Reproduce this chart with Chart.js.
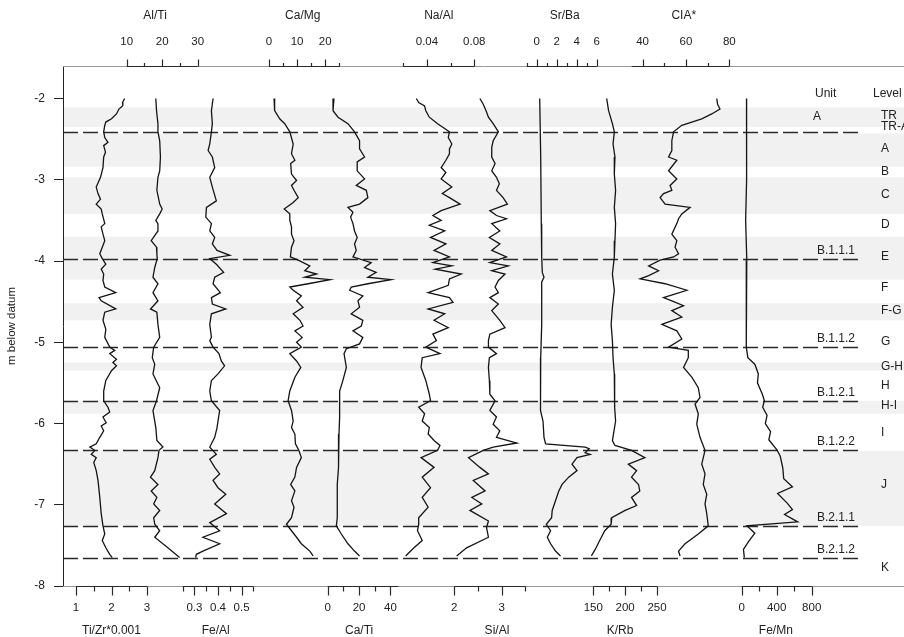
<!DOCTYPE html>
<html>
<head>
<meta charset="utf-8">
<script src="https://cdn.jsdelivr.net/npm/chart.js@4.4.1/dist/chart.umd.min.js"></script>
<style>
  html, body { margin: 0; padding: 0; background: #ffffff; }
  #wrap { width: 904px; height: 637px; }
</style>
</head>
<body>
<div id="wrap"><canvas id="c" width="904" height="637"></canvas></div>
<script>
// ---------------- DATA (depth in m) ----------------
const tiZrDepth = [-2.00,-2.05,-2.09,-2.13,-2.19,-2.25,-2.29,-2.33,-2.41,-2.48,-2.54,-2.58,-2.66,-2.72,-2.85,-2.97,-3.09,-3.17,-3.24,-3.30,-3.36,-3.42,-3.54,-3.58,-3.67,-3.75,-3.83,-3.91,-3.97,-4.04,-4.10,-4.16,-4.24,-4.32,-4.39,-4.45,-4.49,-4.59,-4.63,-4.73,-4.84,-4.94,-5.06,-5.10,-5.14,-5.21,-5.25,-5.29,-5.35,-5.47,-5.60,-5.72,-5.80,-5.86,-5.92,-5.99,-6.03,-6.09,-6.17,-6.25,-6.29,-6.33,-6.38,-6.42,-6.48,-6.58,-6.70,-6.91,-7.11,-7.26,-7.36,-7.44,-7.53,-7.61,-7.65];
const tiZrValues = [2.37,2.31,2.32,2.21,2.14,2.00,1.84,1.81,1.78,1.81,1.90,1.78,1.83,1.78,1.76,1.69,1.57,1.62,1.69,1.57,1.71,1.74,1.81,1.71,1.76,1.81,1.74,1.67,1.74,1.84,1.71,1.78,1.76,1.81,2.12,1.65,1.71,2.12,1.81,1.76,1.84,1.81,1.95,2.09,1.95,2.14,2.04,2.14,2.00,1.84,1.78,1.78,1.90,1.95,1.76,1.85,1.71,1.78,1.67,1.57,1.39,1.53,1.43,1.57,1.50,1.57,1.62,1.67,1.71,1.76,1.81,1.74,1.84,1.95,2.02];

const alTiDepth = [-2.00,-2.15,-2.31,-2.41,-2.52,-2.72,-2.89,-2.97,-3.13,-3.30,-3.36,-3.42,-3.50,-3.54,-3.63,-3.75,-3.83,-3.91,-3.97,-4.08,-4.20,-4.28,-4.39,-4.49,-4.59,-4.63,-4.78,-4.94,-5.06,-5.19,-5.27,-5.39,-5.56,-5.72,-5.84,-6.05,-6.21,-6.29,-6.33,-6.42,-6.58,-6.66,-6.75,-6.83,-6.91,-6.99,-7.07,-7.16,-7.24,-7.32,-7.40,-7.53,-7.65];
const alTiValues = [18.2,18.4,18.8,18.8,19.3,19.5,19.3,18.8,18.5,19.3,20.0,19.3,18.2,18.8,18.8,16.9,18.4,18.5,18.6,17.9,17.4,18.8,17.4,18.8,16.7,18.5,18.8,19.3,17.6,17.2,17.9,17.4,19.3,18.4,17.4,18.2,18.5,20.2,19.1,18.8,17.9,16.7,18.8,16.9,18.5,17.6,19.3,17.6,17.9,19.3,17.9,21.6,24.9];

const feAlDepth = [-2.00,-2.15,-2.31,-2.41,-2.56,-2.64,-2.72,-2.85,-2.97,-3.09,-3.26,-3.34,-3.46,-3.54,-3.63,-3.71,-3.79,-3.87,-3.93,-3.97,-4.04,-4.14,-4.20,-4.28,-4.39,-4.45,-4.53,-4.59,-4.65,-4.78,-4.94,-4.98,-5.06,-5.14,-5.23,-5.29,-5.39,-5.47,-5.60,-5.72,-5.84,-5.97,-6.05,-6.17,-6.29,-6.38,-6.44,-6.54,-6.62,-6.70,-6.79,-6.87,-6.99,-7.11,-7.22,-7.32,-7.40,-7.48,-7.57,-7.61,-7.65];
const feAlValues = [0.379,0.372,0.376,0.372,0.365,0.358,0.376,0.386,0.365,0.376,0.393,0.351,0.348,0.372,0.365,0.386,0.376,0.396,0.450,0.365,0.393,0.424,0.386,0.379,0.410,0.372,0.376,0.433,0.372,0.365,0.372,0.365,0.379,0.404,0.414,0.428,0.400,0.372,0.365,0.372,0.407,0.400,0.396,0.386,0.365,0.393,0.365,0.386,0.407,0.379,0.400,0.433,0.386,0.436,0.365,0.407,0.336,0.407,0.336,0.308,0.305];

const caMgDepth = [-2.00,-2.15,-2.25,-2.31,-2.41,-2.56,-2.68,-2.76,-2.80,-2.93,-3.01,-3.07,-3.13,-3.22,-3.28,-3.36,-3.42,-3.50,-3.58,-3.67,-3.75,-3.83,-3.95,-3.99,-4.06,-4.12,-4.16,-4.20,-4.23,-4.28,-4.32,-4.36,-4.43,-4.49,-4.57,-4.65,-4.73,-4.80,-4.86,-4.94,-5.00,-5.06,-5.14,-5.23,-5.31,-5.43,-5.60,-5.72,-5.84,-5.97,-6.05,-6.13,-6.25,-6.33,-6.42,-6.54,-6.66,-6.75,-6.83,-6.95,-7.03,-7.16,-7.24,-7.32,-7.40,-7.48,-7.57,-7.63];
const caMgValues = [1.8,2.0,3.8,5.6,7.4,8.6,8.0,9.2,7.7,8.0,9.8,8.0,8.9,10.4,8.6,5.4,7.4,7.4,8.0,8.0,8.9,8.0,7.6,10.4,14.5,12.7,16.9,12.7,21.7,13.9,7.4,8.6,11.5,9.8,12.1,8.6,11.0,12.1,9.2,11.8,9.8,11.5,7.4,9.8,11.3,9.2,7.4,6.8,8.0,8.6,8.0,9.2,9.4,10.6,11.5,9.8,9.2,7.7,9.2,8.0,8.9,8.0,6.2,8.0,9.8,11.5,14.5,15.7];

const caTiDepth = [-2.00,-2.15,-2.23,-2.31,-2.41,-2.52,-2.62,-2.72,-2.78,-2.89,-2.99,-3.07,-3.13,-3.22,-3.30,-3.34,-3.40,-3.46,-3.54,-3.63,-3.71,-3.79,-3.87,-3.95,-4.02,-4.08,-4.14,-4.20,-4.23,-4.28,-4.32,-4.36,-4.43,-4.49,-4.57,-4.65,-4.73,-4.80,-4.86,-4.94,-5.02,-5.08,-5.14,-5.31,-5.47,-5.60,-5.72,-5.92,-6.13,-6.33,-6.54,-6.75,-6.95,-7.16,-7.26,-7.36,-7.48,-7.57,-7.63];
const caTiValues = [4.0,3.4,6.6,12.9,17.1,20.3,20.3,23.5,18.8,18.8,23.5,18.2,24.6,25.6,20.3,12.9,16.1,14.6,16.1,17.1,18.8,17.1,18.2,16.1,27.7,23.5,30.9,25.6,40.4,25.6,15.0,14.0,22.4,19.3,20.3,15.0,22.4,21.4,16.1,22.4,20.3,11.9,10.4,11.9,9.7,7.6,7.6,7.6,7.2,7.2,6.6,6.1,6.1,6.1,5.5,8.7,12.9,17.1,20.3];

const naAlDepth = [-2.00,-2.05,-2.09,-2.15,-2.23,-2.31,-2.41,-2.48,-2.56,-2.62,-2.68,-2.76,-2.85,-2.91,-2.99,-3.09,-3.17,-3.22,-3.30,-3.38,-3.44,-3.50,-3.56,-3.63,-3.71,-3.79,-3.87,-3.95,-4.02,-4.06,-4.10,-4.16,-4.22,-4.30,-4.39,-4.45,-4.51,-4.59,-4.65,-4.73,-4.82,-4.90,-4.98,-5.06,-5.14,-5.19,-5.31,-5.47,-5.64,-5.72,-5.80,-5.88,-5.97,-6.05,-6.13,-6.21,-6.27,-6.33,-6.42,-6.54,-6.66,-6.79,-6.91,-7.03,-7.16,-7.24,-7.32,-7.44,-7.53,-7.63];
const naAlValues = [0.031,0.033,0.038,0.039,0.042,0.049,0.059,0.058,0.061,0.059,0.059,0.056,0.052,0.056,0.052,0.061,0.053,0.059,0.068,0.052,0.045,0.052,0.042,0.055,0.043,0.056,0.046,0.059,0.045,0.061,0.047,0.069,0.059,0.058,0.041,0.059,0.062,0.041,0.055,0.046,0.058,0.045,0.048,0.039,0.051,0.036,0.035,0.039,0.042,0.043,0.033,0.038,0.036,0.042,0.041,0.046,0.051,0.049,0.035,0.046,0.036,0.043,0.036,0.041,0.033,0.033,0.032,0.036,0.029,0.022];

const siAlDepth = [-2.00,-2.07,-2.15,-2.23,-2.31,-2.41,-2.52,-2.60,-2.72,-2.80,-2.89,-2.97,-3.05,-3.13,-3.22,-3.30,-3.38,-3.44,-3.48,-3.54,-3.63,-3.71,-3.79,-3.87,-3.95,-4.02,-4.06,-4.12,-4.16,-4.24,-4.32,-4.39,-4.45,-4.53,-4.61,-4.73,-4.82,-4.90,-4.98,-5.06,-5.14,-5.19,-5.31,-5.47,-5.64,-5.72,-5.84,-5.92,-6.01,-6.09,-6.17,-6.24,-6.29,-6.33,-6.42,-6.54,-6.62,-6.70,-6.83,-6.91,-6.99,-7.07,-7.20,-7.28,-7.40,-7.53,-7.63];
const siAlValues = [2.54,2.61,2.67,2.72,2.82,2.93,2.82,2.79,2.79,2.86,2.79,2.89,2.95,2.89,3.03,3.12,2.75,2.89,3.10,2.79,2.96,2.74,2.96,2.79,3.10,2.75,3.14,2.79,3.07,2.93,2.86,2.93,2.75,2.93,2.79,2.96,3.07,2.75,2.72,2.72,2.89,2.74,2.72,2.74,2.75,2.86,2.75,2.89,2.82,2.96,2.89,3.32,2.82,2.61,2.30,2.54,2.72,2.40,2.65,2.37,2.58,2.33,2.72,2.68,2.72,2.26,2.05];

const srBaDepth = [-2.00,-2.72,-3.54,-3.95,-4.14,-4.20,-4.26,-4.78,-5.19,-5.60,-5.84,-5.97,-6.17,-6.25,-6.29,-6.31,-6.36,-6.38,-6.42,-6.50,-6.58,-6.66,-6.75,-6.83,-6.95,-7.07,-7.16,-7.24,-7.32,-7.40,-7.48,-7.57,-7.63];
const srBaValues = [0.30,0.40,0.46,0.50,0.56,0.73,0.50,0.50,0.40,0.36,0.40,0.63,0.73,0.89,4.85,5.25,4.85,5.35,4.03,3.53,4.03,3.20,2.54,2.21,1.88,1.55,1.49,0.96,1.39,1.06,1.39,1.88,2.38];

const kRbDepth = [-2.00,-2.15,-2.31,-2.41,-2.56,-2.72,-2.93,-3.13,-3.34,-3.54,-3.75,-3.95,-4.16,-4.36,-4.57,-4.78,-4.98,-5.19,-5.39,-5.60,-5.80,-5.97,-6.21,-6.27,-6.33,-6.42,-6.50,-6.58,-6.66,-6.75,-6.83,-6.91,-7.01,-7.07,-7.16,-7.24,-7.32,-7.44,-7.55,-7.63];
const kRbValues = [171,174,180,183,181,184,183,185,183,185,184,183,180,183,180,178,180,181,183,184,183,185,180,184,210,231,205,218,210,221,223,210,218,200,179,178,168,160,153,147];

const ciaDepth = [-2.00,-2.07,-2.13,-2.19,-2.25,-2.29,-2.33,-2.41,-2.52,-2.64,-2.72,-2.76,-2.89,-2.99,-3.07,-3.13,-3.17,-3.22,-3.30,-3.34,-3.42,-3.48,-3.54,-3.67,-3.75,-3.83,-3.91,-3.95,-3.99,-4.06,-4.12,-4.18,-4.22,-4.28,-4.36,-4.45,-4.49,-4.55,-4.61,-4.69,-4.78,-4.86,-4.96,-5.06,-5.10,-5.19,-5.31,-5.43,-5.56,-5.68,-5.76,-5.88,-6.01,-6.17,-6.33,-6.50,-6.62,-6.75,-6.87,-6.99,-7.11,-7.26,-7.36,-7.48,-7.57,-7.63];
const ciaValues = [74.2,74.6,75.7,71.9,67.3,62.7,58.1,54.3,53.5,53.5,52.0,55.8,52.0,55.8,52.7,53.5,49.7,48.1,50.4,61.9,58.1,56.6,55.8,53.5,55.8,55.0,56.6,54.3,48.1,42.8,47.4,42.8,38.9,50.4,60.4,49.7,53.5,58.9,53.5,58.1,48.9,55.8,58.1,52.0,61.1,61.1,58.9,62.7,65.7,66.5,64.2,65.7,65.0,66.5,68.8,67.3,68.8,68.0,69.6,68.8,69.6,70.3,65.7,59.6,56.6,57.3];

const feMnDepth = [-2.00,-2.41,-3.00,-3.50,-3.98,-4.50,-5.06,-5.19,-5.27,-5.39,-5.50,-5.64,-5.72,-5.80,-5.90,-6.00,-6.10,-6.20,-6.32,-6.40,-6.55,-6.68,-6.78,-6.86,-6.98,-7.06,-7.12,-7.21,-7.26,-7.35,-7.45,-7.55,-7.65];
const feMnValues = [55,60,52,45,58,50,55,70,150,190,180,236,259,240,290,270,330,310,400,440,470,480,580,410,520,580,490,640,60,150,80,20,30];

// axis extents and tick labels
const tiZrRange = [1, 3];       const tiZrTicks = [1, 2, 3];          const tiZrMinor = [1.5, 2.5];
const alTiRange = [10, 30];     const alTiTicks = [10, 20, 30];       const alTiMinor = [15, 25];
const feAlRange = [0.25, 0.55]; const feAlTicks = [0.3, 0.4, 0.5];    const feAlMinor = [0.25, 0.35, 0.45, 0.55];
const caMgRange = [0, 25];      const caMgTicks = [0, 10, 20];        const caMgMinor = [5, 15, 25];
const caTiRange = [0, 45];      const caTiTicks = [0, 20, 40];        const caTiMinor = [10, 30];
const naAlRange = [0.02, 0.08]; const naAlTicks = [0.04, 0.08];       const naAlMinor = [0.02, 0.06];
const siAlRange = [2, 3.5];     const siAlTicks = [2, 3];             const siAlMinor = [2.5, 3.5];
const srBaRange = [-1, 6];      const srBaTicks = [0, 2, 4, 6];       const srBaMinor = [-1, 1, 3, 5];
const kRbRange = [150, 250];    const kRbTicks = [150, 200, 250];     const kRbMinor = [175, 225];
const ciaRange = [35, 80];      const ciaTicks = [40, 60, 80];        const ciaMinor = [50, 70];
const feMnRange = [0, 800];     const feMnTicks = [0, 400, 800];      const feMnMinor = [200, 600];

const depthTicks = [-2, -3, -4, -5, -6, -7, -8];

// stratigraphy
const bandTops    = [-2.11, -2.43, -2.97, -3.70, -4.52, -5.25, -5.72, -6.34];
const bandBottoms = [-2.35, -2.84, -3.42, -4.23, -4.73, -5.35, -5.88, -7.26];
const unitBoundaries = [-2.41, -3.98, -5.06, -5.72, -6.32, -7.26, -7.65];
const unitBoundaryLabels = ['', 'B.1.1.1', 'B.1.1.2', 'B.1.2.1', 'B.1.2.2', 'B.2.1.1', 'B.2.1.2'];
const levelNames = ['TR', 'TR-A', 'A', 'B', 'C', 'D', 'E', 'F', 'F-G', 'G', 'G-H', 'H', 'H-I', 'I', 'J', 'K'];

// ---------------- LAYOUT (pixel positions, styles) ----------------
const AREA_LEFT = 63, AREA_RIGHT = 904, AREA_TOP = 66, AREA_BOTTOM = 586;
const segmentPx = {
  tiZr: [76, 147], alTi: [126.7, 197.7], feAl: [182.7, 253.3], caMg: [269, 339.3], caTi: [327.7, 398.3],
  naAl: [403.3, 474.3], siAl: [454.3, 525.4], srBa: [526.7, 596.7], kRb: [593.3, 657], cia: [631.7, 729.3], feMn: [741.7, 811.7]
};
const levelLabelDepth = [-2.21, -2.345, -2.62, -2.90, -3.18, -3.55, -3.95, -4.33, -4.61, -4.99, -5.30, -5.54, -5.78, -6.11, -6.75, -7.78];
const headerDepth = -1.94, unitADepth = -2.22;
const FONT = '"Liberation Sans", Arial, Helvetica, sans-serif';
const TEXT = '#222222';
const BAND_COLOR = '#f1f1f1';

const series = [
  { id: 'tiZr', name: 'Ti/Zr*0.001', side: 'bottom', depth: tiZrDepth, values: tiZrValues, range: tiZrRange, major: tiZrTicks, minor: tiZrMinor, titleAt: 2 },
  { id: 'alTi', name: 'Al/Ti',       side: 'top',    depth: alTiDepth, values: alTiValues, range: alTiRange, major: alTiTicks, minor: alTiMinor, titleAt: 18 },
  { id: 'feAl', name: 'Fe/Al',       side: 'bottom', depth: feAlDepth, values: feAlValues, range: feAlRange, major: feAlTicks, minor: feAlMinor, titleAt: 0.39 },
  { id: 'caMg', name: 'Ca/Mg',       side: 'top',    depth: caMgDepth, values: caMgValues, range: caMgRange, major: caMgTicks, minor: caMgMinor, titleAt: 12 },
  { id: 'caTi', name: 'Ca/Ti',       side: 'bottom', depth: caTiDepth, values: caTiValues, range: caTiRange, major: caTiTicks, minor: caTiMinor, titleAt: 20 },
  { id: 'naAl', name: 'Na/Al',       side: 'top',    depth: naAlDepth, values: naAlValues, range: naAlRange, major: naAlTicks, minor: naAlMinor, titleAt: 0.05 },
  { id: 'siAl', name: 'Si/Al',       side: 'bottom', depth: siAlDepth, values: siAlValues, range: siAlRange, major: siAlTicks, minor: siAlMinor, titleAt: 2.9 },
  { id: 'srBa', name: 'Sr/Ba',       side: 'top',    depth: srBaDepth, values: srBaValues, range: srBaRange, major: srBaTicks, minor: srBaMinor, titleAt: 2.8 },
  { id: 'kRb',  name: 'K/Rb',        side: 'bottom', depth: kRbDepth,  values: kRbValues,  range: kRbRange,  major: kRbTicks,  minor: kRbMinor,  titleAt: 192 },
  { id: 'cia',  name: 'CIA*',        side: 'top',    depth: ciaDepth,  values: ciaValues,  range: ciaRange,  major: ciaTicks,  minor: ciaMinor,  titleAt: 59 },
  { id: 'feMn', name: 'Fe/Mn',       side: 'bottom', depth: feMnDepth, values: feMnValues, range: feMnRange, major: feMnTicks, minor: feMnMinor, titleAt: 390 }
];

function extentFor(range, px) {
  const upp = (range[1] - range[0]) / (px[1] - px[0]);
  return { min: range[0] - (px[0] - AREA_LEFT) * upp, max: range[1] + (AREA_RIGHT - px[1]) * upp };
}

const scales = {
  x: { display: false },
  y: {
    type: 'linear', position: 'left', min: -8, max: -1.6,
    afterBuildTicks: (s) => { s.ticks = depthTicks.map(v => ({ value: v })); },
    afterFit: (s) => { s.width = AREA_LEFT; },
    border: { display: true, color: '#222', width: 1 },
    grid: { display: true, drawOnChartArea: false, drawTicks: true, tickLength: 9, color: '#222', lineWidth: 1 },
    ticks: { color: TEXT, font: { family: FONT, size: 12 }, padding: 9 },
    title: { display: true, text: 'm below datum', color: TEXT, font: { family: FONT, size: 11.5 }, padding: { top: 5, bottom: 3 } }
  }
};
series.forEach(s => {
  const e = extentFor(s.range, segmentPx[s.id]);
  scales['x_' + s.id] = { type: 'linear', axis: 'x', display: false, min: e.min, max: e.max };
});

const datasets = series.map(s => ({
  label: s.name,
  data: s.depth.map((d, i) => ({ x: s.values[i], y: d })).filter(p => p.x !== undefined),
  xAxisID: 'x_' + s.id,
  yAxisID: 'y',
  borderColor: '#141414',
  borderWidth: 1.3,
  pointRadius: 0,
  showLine: true,
  fill: false,
  tension: 0
}));

const decorPlugin = {
  id: 'decor',
  beforeDraw(chart) {
    const { ctx, chartArea: a } = chart;
    const y = chart.scales.y;
    ctx.save();
    ctx.fillStyle = BAND_COLOR;
    bandTops.forEach((t, i) => {
      const y1 = y.getPixelForValue(t), y2 = y.getPixelForValue(bandBottoms[i]);
      ctx.fillRect(a.left + 1, y1, a.right - a.left, y2 - y1);
    });
    ctx.restore();
  },
  beforeDatasetsDraw(chart) {
    const { ctx, chartArea: a } = chart;
    const y = chart.scales.y;
    ctx.save();
    ctx.strokeStyle = '#2a2a2a';
    ctx.lineWidth = 1.3;
    ctx.setLineDash([15, 5]);
    unitBoundaries.forEach(d => {
      const py = Math.round(y.getPixelForValue(d)) + 0.5;
      ctx.beginPath(); ctx.moveTo(a.left, py); ctx.lineTo(859, py); ctx.stroke();
    });
    ctx.restore();
  },
  afterDraw(chart) {
    const { ctx, chartArea: a } = chart;
    const y = chart.scales.y;
    ctx.save();
    // full-width frame lines top and bottom
    ctx.strokeStyle = '#9a9a9a'; ctx.lineWidth = 1;
    ctx.beginPath();
    ctx.moveTo(a.left, a.top + 0.5); ctx.lineTo(a.right, a.top + 0.5);
    ctx.moveTo(a.left, a.bottom + 0.5); ctx.lineTo(a.right, a.bottom + 0.5);
    ctx.stroke();

    // per-series axis segments
    series.forEach(s => {
      const sc = chart.scales['x_' + s.id];
      const top = s.side === 'top';
      const base = (top ? a.top : a.bottom) + 0.5;
      const dir = top ? -1 : 1;
      const majLen = top ? 7 : 9, minLen = top ? 3.5 : 5;
      const x1 = sc.getPixelForValue(s.range[0]), x2 = sc.getPixelForValue(s.range[1]);
      ctx.strokeStyle = '#2a2a2a'; ctx.lineWidth = 1.2;
      ctx.beginPath(); ctx.moveTo(x1, base); ctx.lineTo(x2, base);
      s.major.forEach(v => { const px = Math.round(sc.getPixelForValue(v)) + 0.5; ctx.moveTo(px, base); ctx.lineTo(px, base + dir * majLen); });
      s.minor.forEach(v => { const px = Math.round(sc.getPixelForValue(v)) + 0.5; ctx.moveTo(px, base); ctx.lineTo(px, base + dir * minLen); });
      ctx.stroke();
      ctx.fillStyle = TEXT; ctx.textAlign = 'center'; ctx.textBaseline = 'middle';
      ctx.font = '11.5px ' + FONT;
      const ly = top ? a.top - 24.3 : a.bottom + 22.3;
      s.major.forEach(v => ctx.fillText(String(v), sc.getPixelForValue(v), ly));
      ctx.font = '12px ' + FONT;
      const ty = top ? a.top - 50.3 : a.bottom + 44.7;
      ctx.fillText(s.name, sc.getPixelForValue(s.titleAt), ty);
    });

    // stratigraphic text
    ctx.fillStyle = TEXT; ctx.textBaseline = 'middle'; ctx.font = '12px ' + FONT;
    ctx.textAlign = 'left';
    ctx.fillText('Unit', 815, y.getPixelForValue(headerDepth));
    ctx.fillText('Level', 873, y.getPixelForValue(headerDepth));
    ctx.fillText('A', 813, y.getPixelForValue(unitADepth));
    levelNames.forEach((n, i) => ctx.fillText(n, 881, y.getPixelForValue(levelLabelDepth[i])));
    ctx.textAlign = 'right';
    unitBoundaries.forEach((d, i) => {
      if (unitBoundaryLabels[i]) ctx.fillText(unitBoundaryLabels[i], 855, y.getPixelForValue(d) - 8.3);
    });
    ctx.restore();
  }
};

new Chart(document.getElementById('c'), {
  type: 'scatter',
  data: { datasets },
  options: {
    responsive: false,
    animation: false,
    devicePixelRatio: 1,
    layout: { padding: { top: AREA_TOP, bottom: 637 - AREA_BOTTOM, left: 0, right: 0 } },
    plugins: { legend: { display: false }, tooltip: { enabled: false }, title: { display: false } },
    scales
  },
  plugins: [decorPlugin]
});
</script>
</body>
</html>
